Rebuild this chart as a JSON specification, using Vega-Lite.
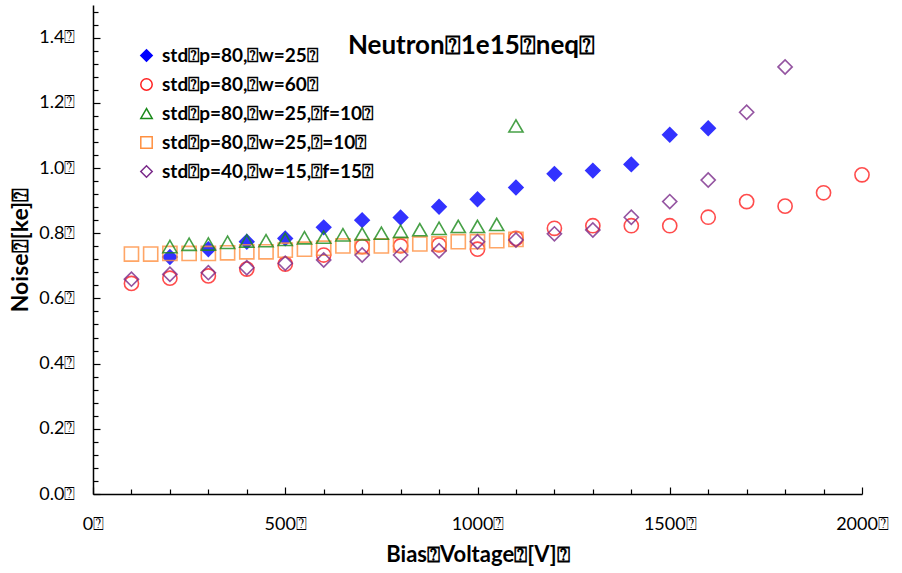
{
  "$schema": "https://vega.github.io/schema/vega-lite/v6.json",
  "width": 769,
  "height": 489,
  "autosize": {"type": "none"},
  "padding": {"left": 93, "top": 5, "right": 40, "bottom": 79},
  "background": "white",
  "config": {"view": {"stroke": null}, "font": "Lato"},
  "title": {"text": "Neutron⍰1e15⍰neq⍰", "fontSize": 26, "font": "Lato", "fontWeight": "bold", "color": "black", "anchor": "middle", "offset": -56, "dx": -6},
  "data": {"values": [
    {"s": "std⍰p=80,⍰w=25⍰", "v": 200, "n": 0.727},
    {"s": "std⍰p=80,⍰w=25⍰", "v": 300, "n": 0.751},
    {"s": "std⍰p=80,⍰w=25⍰", "v": 400, "n": 0.774},
    {"s": "std⍰p=80,⍰w=25⍰", "v": 500, "n": 0.784},
    {"s": "std⍰p=80,⍰w=25⍰", "v": 600, "n": 0.818},
    {"s": "std⍰p=80,⍰w=25⍰", "v": 700, "n": 0.840},
    {"s": "std⍰p=80,⍰w=25⍰", "v": 800, "n": 0.848},
    {"s": "std⍰p=80,⍰w=25⍰", "v": 900, "n": 0.881},
    {"s": "std⍰p=80,⍰w=25⍰", "v": 1000, "n": 0.904},
    {"s": "std⍰p=80,⍰w=25⍰", "v": 1100, "n": 0.940},
    {"s": "std⍰p=80,⍰w=25⍰", "v": 1200, "n": 0.982},
    {"s": "std⍰p=80,⍰w=25⍰", "v": 1300, "n": 0.992},
    {"s": "std⍰p=80,⍰w=25⍰", "v": 1400, "n": 1.011},
    {"s": "std⍰p=80,⍰w=25⍰", "v": 1500, "n": 1.102},
    {"s": "std⍰p=80,⍰w=25⍰", "v": 1600, "n": 1.122},
    {"s": "std⍰p=80,⍰w=60⍰", "v": 100, "n": 0.646},
    {"s": "std⍰p=80,⍰w=60⍰", "v": 200, "n": 0.662},
    {"s": "std⍰p=80,⍰w=60⍰", "v": 300, "n": 0.669},
    {"s": "std⍰p=80,⍰w=60⍰", "v": 400, "n": 0.690},
    {"s": "std⍰p=80,⍰w=60⍰", "v": 500, "n": 0.705},
    {"s": "std⍰p=80,⍰w=60⍰", "v": 600, "n": 0.733},
    {"s": "std⍰p=80,⍰w=60⍰", "v": 700, "n": 0.759},
    {"s": "std⍰p=80,⍰w=60⍰", "v": 800, "n": 0.761},
    {"s": "std⍰p=80,⍰w=60⍰", "v": 900, "n": 0.764},
    {"s": "std⍰p=80,⍰w=60⍰", "v": 1000, "n": 0.751},
    {"s": "std⍰p=80,⍰w=60⍰", "v": 1100, "n": 0.784},
    {"s": "std⍰p=80,⍰w=60⍰", "v": 1200, "n": 0.815},
    {"s": "std⍰p=80,⍰w=60⍰", "v": 1300, "n": 0.823},
    {"s": "std⍰p=80,⍰w=60⍰", "v": 1400, "n": 0.823},
    {"s": "std⍰p=80,⍰w=60⍰", "v": 1500, "n": 0.823},
    {"s": "std⍰p=80,⍰w=60⍰", "v": 1600, "n": 0.849},
    {"s": "std⍰p=80,⍰w=60⍰", "v": 1700, "n": 0.897},
    {"s": "std⍰p=80,⍰w=60⍰", "v": 1800, "n": 0.883},
    {"s": "std⍰p=80,⍰w=60⍰", "v": 1900, "n": 0.924},
    {"s": "std⍰p=80,⍰w=60⍰", "v": 2000, "n": 0.979},
    {"s": "std⍰p=80,⍰w=25,⍰=10⍰", "v": 100, "n": 0.736},
    {"s": "std⍰p=80,⍰w=25,⍰=10⍰", "v": 150, "n": 0.736},
    {"s": "std⍰p=80,⍰w=25,⍰=10⍰", "v": 200, "n": 0.738},
    {"s": "std⍰p=80,⍰w=25,⍰=10⍰", "v": 250, "n": 0.738},
    {"s": "std⍰p=80,⍰w=25,⍰=10⍰", "v": 300, "n": 0.738},
    {"s": "std⍰p=80,⍰w=25,⍰=10⍰", "v": 350, "n": 0.740},
    {"s": "std⍰p=80,⍰w=25,⍰=10⍰", "v": 400, "n": 0.743},
    {"s": "std⍰p=80,⍰w=25,⍰=10⍰", "v": 450, "n": 0.743},
    {"s": "std⍰p=80,⍰w=25,⍰=10⍰", "v": 500, "n": 0.748},
    {"s": "std⍰p=80,⍰w=25,⍰=10⍰", "v": 550, "n": 0.751},
    {"s": "std⍰p=80,⍰w=25,⍰=10⍰", "v": 600, "n": 0.754},
    {"s": "std⍰p=80,⍰w=25,⍰=10⍰", "v": 650, "n": 0.761},
    {"s": "std⍰p=80,⍰w=25,⍰=10⍰", "v": 700, "n": 0.759},
    {"s": "std⍰p=80,⍰w=25,⍰=10⍰", "v": 750, "n": 0.761},
    {"s": "std⍰p=80,⍰w=25,⍰=10⍰", "v": 800, "n": 0.764},
    {"s": "std⍰p=80,⍰w=25,⍰=10⍰", "v": 850, "n": 0.767},
    {"s": "std⍰p=80,⍰w=25,⍰=10⍰", "v": 900, "n": 0.767},
    {"s": "std⍰p=80,⍰w=25,⍰=10⍰", "v": 950, "n": 0.774},
    {"s": "std⍰p=80,⍰w=25,⍰=10⍰", "v": 1000, "n": 0.774},
    {"s": "std⍰p=80,⍰w=25,⍰=10⍰", "v": 1050, "n": 0.777},
    {"s": "std⍰p=80,⍰w=25,⍰=10⍰", "v": 1100, "n": 0.781},
    {"s": "std⍰p=80,⍰w=25,⍰f=10⍰", "v": 200, "n": 0.759},
    {"s": "std⍰p=80,⍰w=25,⍰f=10⍰", "v": 250, "n": 0.766},
    {"s": "std⍰p=80,⍰w=25,⍰f=10⍰", "v": 300, "n": 0.767},
    {"s": "std⍰p=80,⍰w=25,⍰f=10⍰", "v": 350, "n": 0.772},
    {"s": "std⍰p=80,⍰w=25,⍰f=10⍰", "v": 400, "n": 0.776},
    {"s": "std⍰p=80,⍰w=25,⍰f=10⍰", "v": 450, "n": 0.777},
    {"s": "std⍰p=80,⍰w=25,⍰f=10⍰", "v": 500, "n": 0.781},
    {"s": "std⍰p=80,⍰w=25,⍰f=10⍰", "v": 550, "n": 0.786},
    {"s": "std⍰p=80,⍰w=25,⍰f=10⍰", "v": 600, "n": 0.788},
    {"s": "std⍰p=80,⍰w=25,⍰f=10⍰", "v": 650, "n": 0.795},
    {"s": "std⍰p=80,⍰w=25,⍰f=10⍰", "v": 700, "n": 0.798},
    {"s": "std⍰p=80,⍰w=25,⍰f=10⍰", "v": 750, "n": 0.800},
    {"s": "std⍰p=80,⍰w=25,⍰f=10⍰", "v": 800, "n": 0.806},
    {"s": "std⍰p=80,⍰w=25,⍰f=10⍰", "v": 850, "n": 0.811},
    {"s": "std⍰p=80,⍰w=25,⍰f=10⍰", "v": 900, "n": 0.815},
    {"s": "std⍰p=80,⍰w=25,⍰f=10⍰", "v": 950, "n": 0.821},
    {"s": "std⍰p=80,⍰w=25,⍰f=10⍰", "v": 1000, "n": 0.821},
    {"s": "std⍰p=80,⍰w=25,⍰f=10⍰", "v": 1050, "n": 0.827},
    {"s": "std⍰p=80,⍰w=25,⍰f=10⍰", "v": 1100, "n": 1.129},
    {"s": "std⍰p=40,⍰w=15,⍰f=15⍰", "v": 100, "n": 0.659},
    {"s": "std⍰p=40,⍰w=15,⍰f=15⍰", "v": 200, "n": 0.674},
    {"s": "std⍰p=40,⍰w=15,⍰f=15⍰", "v": 300, "n": 0.679},
    {"s": "std⍰p=40,⍰w=15,⍰f=15⍰", "v": 400, "n": 0.694},
    {"s": "std⍰p=40,⍰w=15,⍰f=15⍰", "v": 500, "n": 0.708},
    {"s": "std⍰p=40,⍰w=15,⍰f=15⍰", "v": 600, "n": 0.718},
    {"s": "std⍰p=40,⍰w=15,⍰f=15⍰", "v": 700, "n": 0.733},
    {"s": "std⍰p=40,⍰w=15,⍰f=15⍰", "v": 800, "n": 0.733},
    {"s": "std⍰p=40,⍰w=15,⍰f=15⍰", "v": 900, "n": 0.746},
    {"s": "std⍰p=40,⍰w=15,⍰f=15⍰", "v": 1000, "n": 0.774},
    {"s": "std⍰p=40,⍰w=15,⍰f=15⍰", "v": 1100, "n": 0.779},
    {"s": "std⍰p=40,⍰w=15,⍰f=15⍰", "v": 1200, "n": 0.798},
    {"s": "std⍰p=40,⍰w=15,⍰f=15⍰", "v": 1300, "n": 0.810},
    {"s": "std⍰p=40,⍰w=15,⍰f=15⍰", "v": 1400, "n": 0.849},
    {"s": "std⍰p=40,⍰w=15,⍰f=15⍰", "v": 1500, "n": 0.897},
    {"s": "std⍰p=40,⍰w=15,⍰f=15⍰", "v": 1600, "n": 0.963},
    {"s": "std⍰p=40,⍰w=15,⍰f=15⍰", "v": 1700, "n": 1.171},
    {"s": "std⍰p=40,⍰w=15,⍰f=15⍰", "v": 1800, "n": 1.310}
  ]},
  "mark": {"type": "point", "size": 200, "strokeWidth": 1.6, "opacity": 0.8},
  "encoding": {
    "x": {
      "field": "v", "type": "quantitative",
      "scale": {"domain": [0, 2000], "nice": false, "zero": false},
      "axis": {
        "values": [0,100,200,300,400,500,600,700,800,900,1000,1100,1200,1300,1400,1500,1600,1700,1800,1900,2000],
        "labelExpr": "datum.value % 500 === 0 ? datum.value + '⍰' : ''",
        "tickSize": {"condition": {"test": "datum.value % 500 === 0", "value": -7}, "value": -5},
        "grid": false, "domainColor": "black", "tickColor": "black", "domainWidth": 1.5, "tickWidth": 1.2,
        "labelFontSize": 18, "labelColor": "black", "labelFont": "Lato", "labelPadding": 28,
        "labelOverlap": false, "labelFlush": false,
        "title": "Bias⍰Voltage⍰[V]⍰", "titleFontSize": 22, "titleFont": "Lato", "titleFontWeight": "bold", "titleColor": "black", "titlePadding": 9
      }
    },
    "y": {
      "field": "n", "type": "quantitative",
      "scale": {"domain": [0, 1.5], "nice": false, "zero": false},
      "axis": {
        "values": [0,0.04,0.08,0.12,0.16,0.2,0.24,0.28,0.32,0.36,0.4,0.44,0.48,0.52,0.56,0.6,0.64,0.68,0.72,0.76,0.8,0.84,0.88,0.92,0.96,1.0,1.04,1.08,1.12,1.16,1.2,1.24,1.28,1.32,1.36,1.4,1.44,1.48],
        "labelExpr": "abs(datum.value*5 - round(datum.value*5)) < 0.001 ? format(datum.value, '.1f') + '⍰' : ''",
        "tickSize": {"condition": {"test": "abs(datum.value*5 - round(datum.value*5)) < 0.001", "value": -7}, "value": -5},
        "grid": false, "domainColor": "black", "tickColor": "black", "domainWidth": 1.5, "tickWidth": 1.2,
        "labelFontSize": 18, "labelColor": "black", "labelFont": "Lato", "labelPadding": 25,
        "labelOverlap": false, "labelFlush": false,
        "title": "Noise⍰[ke]⍰", "titleFontSize": 23, "titleFont": "Lato", "titleFontWeight": "bold", "titleColor": "black", "titlePadding": 6
      }
    },
    "shape": {
      "field": "s", "type": "nominal", "title": null,
      "scale": {"domain": ["std⍰p=80,⍰w=25⍰", "std⍰p=80,⍰w=60⍰", "std⍰p=80,⍰w=25,⍰f=10⍰", "std⍰p=80,⍰w=25,⍰=10⍰", "std⍰p=40,⍰w=15,⍰f=15⍰"],
                "range": ["diamond", "circle", "triangle-up", "square", "diamond"]},
      "legend": {"orient": "none", "legendX": 44, "legendY": 41, "padding": 0, "symbolSize": 130, "symbolStrokeWidth": 1.5,
                 "labelFontSize": 19, "labelFont": "Lato", "labelFontWeight": "bold", "labelColor": "black", "labelOffset": 6, "rowPadding": 9, "labelLimit": 400, "symbolOpacity": 1}
    },
    "stroke": {
      "field": "s", "type": "nominal", "title": null,
      "scale": {"domain": ["std⍰p=80,⍰w=25⍰", "std⍰p=80,⍰w=60⍰", "std⍰p=80,⍰w=25,⍰f=10⍰", "std⍰p=80,⍰w=25,⍰=10⍰", "std⍰p=40,⍰w=15,⍰f=15⍰"],
                "range": ["#0000ff", "#ff2020", "#1a8a1a", "#ff9040", "#7a2a8a"]}
    },
    "fill": {
      "field": "s", "type": "nominal", "title": null,
      "scale": {"domain": ["std⍰p=80,⍰w=25⍰", "std⍰p=80,⍰w=60⍰", "std⍰p=80,⍰w=25,⍰f=10⍰", "std⍰p=80,⍰w=25,⍰=10⍰", "std⍰p=40,⍰w=15,⍰f=15⍰"],
                "range": ["#0000ff", "transparent", "transparent", "transparent", "transparent"]}
    }
  }
}
